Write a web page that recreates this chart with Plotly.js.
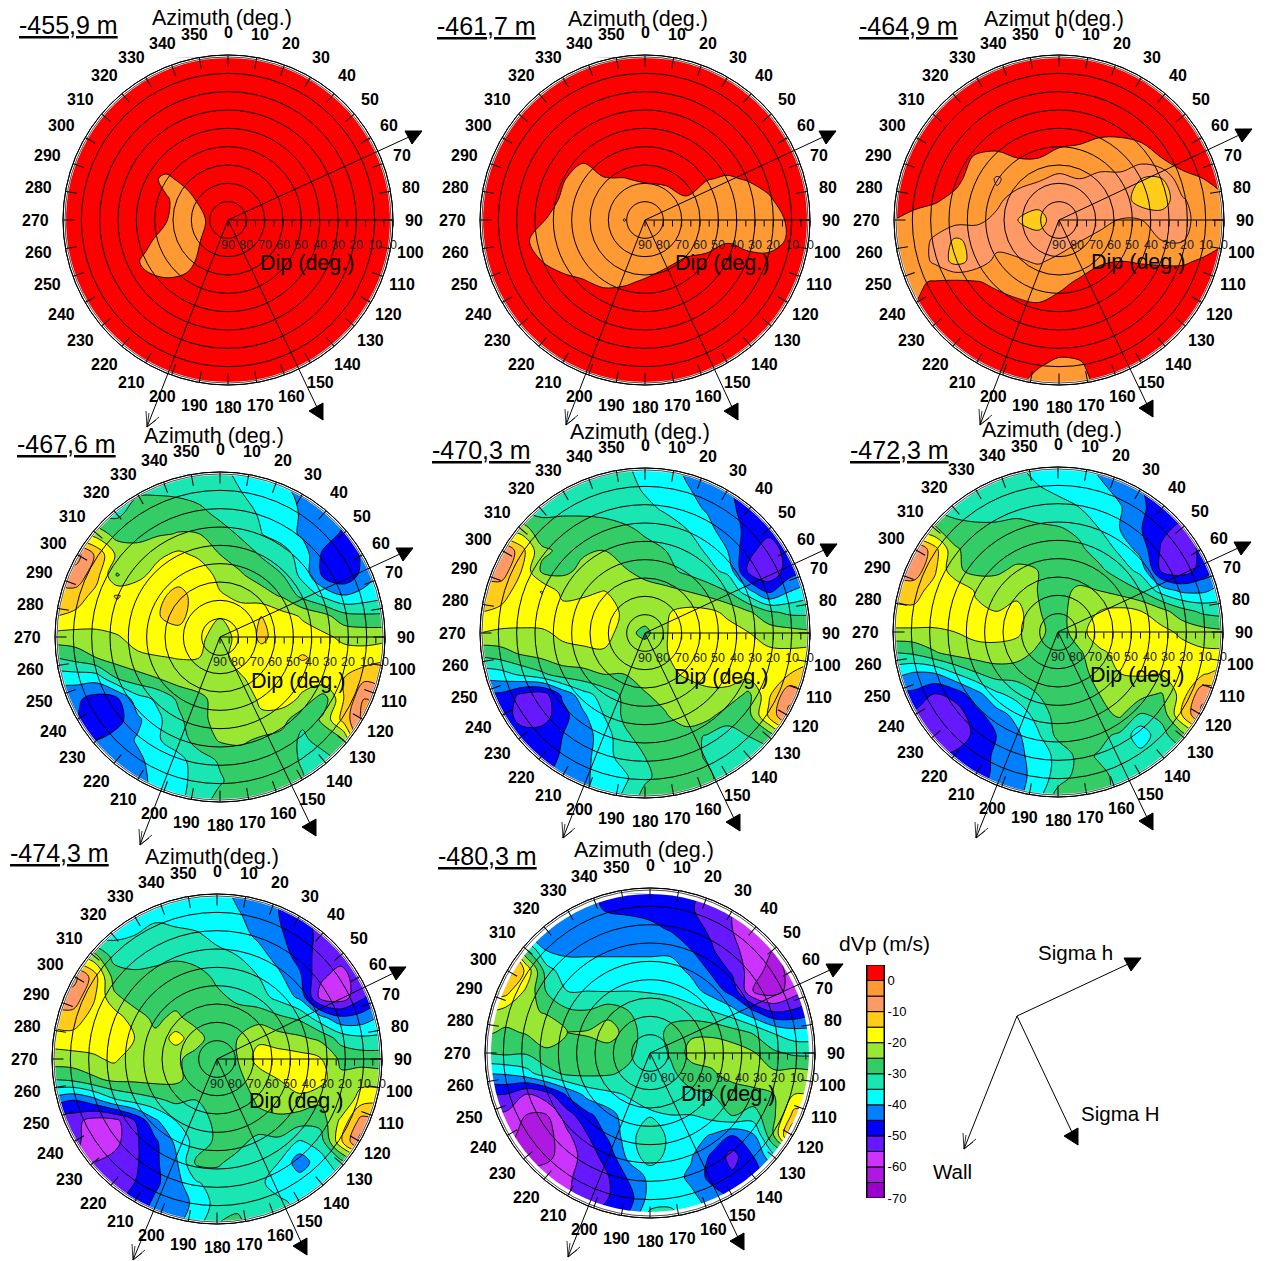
<!DOCTYPE html>
<html><head><meta charset="utf-8">
<script src="https://cdn.plot.ly/plotly-3.0.1.min.js"></script>
<style>html,body{margin:0;padding:0;background:#fff}#chart{width:1274px;height:1261px}</style>
</head><body><div id="chart"></div>
<script>
// ---------- data ----------
const gridX=[-90,-78.75,-67.5,-56.25,-45,-33.75,-22.5,-11.25,0,11.25,22.5,33.75,45,56.25,67.5,78.75,90];
const gridY=[90,78.75,67.5,56.25,45,33.75,22.5,11.25,0,-11.25,-22.5,-33.75,-45,-56.25,-67.5,-78.75,-90];
const azimuthTicks=[0,10,20,30,40,50,60,70,80,90,100,110,120,130,140,150,160,170,180,190,200,210,220,230,240,250,260,270,280,290,300,310,320,330,340,350];
const dipTicks=[90,80,70,60,50,40,30,20,10,0];
const levelTicks=[0,-10,-20,-30,-40,-50,-60,-70];
const levelLabels=['0','-10','-20','-30','-40','-50','-60','-70'];
const bandMid=[-67.5,-62.5,-57.5,-52.5,-47.5,-42.5,-37.5,-32.5,-27.5,-22.5,-17.5,-12.5,-7.5,-2.5,2.5];
const bandColors=['#9900CC','#AD19E0','#CC33FF','#6619FF','#0000FF','#0080FF','#00FFFF','#19E6B3','#33CC66','#99E633','#FFFF00','#FFCC19','#FF9966','#FF9933','#FF0000'];
const depthLabels=['-455,9 m','-461,7 m','-464,9 m','-467,6 m','-470,3 m','-472,3 m','-474,3 m','-480,3 m'];
const azimuthLabels=['Azimuth (deg.)','Azimuth (deg.)','Azimut h(deg.)','Azimuth (deg.)','Azimuth (deg.)','Azimuth (deg.)','Azimuth(deg.)','Azimuth (deg.)'];

const dVp455=[
[2,2,2,2,2,2,2,2,2,2,2,2,2,2,2,2,2],
[2,2,2,2,2,2,2,2,2,2,2,2,2,2,2,2,2],
[2,2,2,2,2,2,2,2,2,2,2,2,2,2,2,2,2],
[2,2,2,2,2,2,2,2,2,2,2,2,2,2,2,2,2],
[2,2,2,2,2,2,2,2,2,2,2,2,2,2,2,2,2],
[2,2,2,2,2,2,2,2,2,2,2,2,2,2,2,2,2],
[2,2,2,2,1,-0.6,1,2,2,2,2,2,2,2,2,2,2],
[2,2,2,2,2,0.2,-1,1.5,2,2,2,2,2,2,2,2,2],
[2,2,2,2,2,0.2,-2,0.2,2,2,2,2,2,2,2,2,2],
[2,2,2,2,1,-2,-2,1,2,2,2,2,2,2,2,2,2],
[2,2,2,2,-0.8,-2,-1,1.5,2,2,2,2,2,2,2,2,2],
[2,2,2,2,1,0.5,0.8,2,2,2,2,2,2,2,2,2,2],
[2,2,2,2,2,2,2,2,2,2,2,2,2,2,2,2,2],
[2,2,2,2,2,2,2,2,2,2,2,2,2,2,2,2,2],
[2,2,2,2,2,2,2,2,2,2,2,2,2,2,2,2,2],
[2,2,2,2,2,2,2,2,2,2,2,2,2,2,2,2,2],
[2,2,2,2,2,2,2,2,2,2,2,2,2,2,2,2,2]];
const dVp461=[
[2,2,2,2,2,2,2,2,2,2,2,2,2,2,2,2,2],
[2,2,2,2,2,2,2,2,2,2,2,2,2,2,2,2,2],
[2,2,2,2,2,2,2,2,2,2,2,2,2,2,2,2,2],
[2,2,2,2,2,2,2,2,2,2,2,2,2,2,2,2,2],
[2,2,2,2,2,2,2,2,2,2,2,2,2,2,2,2,2],
[2,2,2,2,2,0.5,2,2,2,2,2,2,2,2,2,2,2],
[2,2,2,2,0.3,-1.5,-0.2,-0.1,0.5,1,1.5,0.2,-0.4,0.3,1.5,2,2],
[2,2,2,2,-0.5,-2,-2,-2,-2,-2,-0.3,-2,-2,-2,-0.5,2,2],
[2,2,2,0.3,-1.5,-2,-2,-5.2,-2,-2,-2,-2,-2,-2,-2,0.6,2],
[2,2,1,-1.5,-2,-2,-2,-2,-2,-2,-2,-1.5,-0.3,-1.5,-2,0.6,2],
[2,2,2,0,-2,-2,-2,-2,-2,-0.8,0.5,1,2,1.5,1.5,2,2],
[2,2,2,2,1.5,0.3,-0.8,-0.5,0.4,1.5,2,2,2,2,2,2,2],
[2,2,2,2,2,2,2,2,2,2,2,2,2,2,2,2,2],
[2,2,2,2,2,2,2,2,2,2,2,2,2,2,2,2,2],
[2,2,2,2,2,2,2,2,2,2,2,2,2,2,2,2,2],
[2,2,2,2,2,2,2,2,2,2,2,2,2,2,2,2,2],
[2,2,2,2,2,2,2,2,2,2,2,2,2,2,2,2,2]];
const dVp464=[
[2,2,2,2,2,2,2,2,2,2,2,2,2,2,2,2,2],
[2,2,2,2,2,2,2,2,2,2,2,2,2,2,2,2,2],
[2,2,2,2,2,2,2,2,2,2,2,2,2,2,2,2,2],
[2,2,2,2,2,2,2,2,2,2,2,2,2,2,2,2,2],
[2,2,2,2,2,2,2,2,2,1,0,0,1,2,2,2,2],
[2,2,2,1.5,-0.5,-1,0,0,-2,-2,-3,-3,-3,0,1.5,2,2],
[2,2,1.5,1,-2,-5.5,-3,-4.5,-6,-5,-6,-6,-10,-10,-1,0,1.5],
[1.5,1,0.5,-1,-3,-4,-7,-8,-7,-7,-7,-7,-13,-13,-5.5,-2,-0.5],
[0,-1,-2,-3,-4,-6,-10,-12,-7,-7,-7,-4.8,-5,-7,-7,-2,-0.5],
[0,-2,-6,-11,-8,-7,-7,-8,-7,-5.2,-3,-3,-2.5,-5,-5.2,-2,-0.3],
[0.5,-2,-6,-12,-8,-3.5,-4.5,-5.5,-4,-2,-0.5,0,-0.3,-0.5,-0.5,0.5,1],
[1,-0.5,0.3,1,0.3,-1,-2,-2,-1,0.5,2,2,2,2,2,2,2],
[1.5,0,2,2,2,1.5,0.5,0,1,2,2,2,2,2,2,2,2],
[2,2,2,2,2,2,2,2,2,2,2,2,2,2,2,2,2],
[2,2,2,2,2,2,2,2,2,2,2,2,2,2,2,2,2],
[2,2,2,2,2,2,2,0.5,-1,-0.5,2,2,2,2,2,2,2],
[2,2,2,2,2,2,0.5,-2,-3,-1.5,1,2,2,2,2,2,2]];
const dVp467=[
[-31,-31,-31,-31,-31,-31,-31.5,-32,-33,-37,-40,-41,-43,-44,-44,-44,-44],
[-31,-31,-31,-31,-30.5,-30.5,-31,-32,-33,-34.8,-37,-39,-41,-43,-44,-44,-44],
[-31,-31,-31,-31,-28,-27,-27,-28.5,-31.5,-33.5,-35.5,-38,-40.5,-42,-43,-44,-44],
[-20,-20,-22,-27,-26.5,-25.5,-24.8,-25,-27.5,-30.8,-34.9,-37,-41,-42,-46,-43,-43],
[-6,-3,-11,-21,-23,-21,-19,-21,-25,-27,-30.5,-33,-37,-46,-48,-44,-42],
[-8,-7,-13,-25.5,-21.5,-18,-17,-17,-21.5,-24.5,-27,-29.8,-36.5,-46,-49,-43,-38],
[-12,-12,-17,-14.7,-16.5,-16,-13.5,-17,-19.5,-21,-23,-25.5,-31.5,-36,-39.7,-38,-36],
[-15,-16.5,-17.5,-16.5,-16.5,-15.2,-13.5,-18,-19.8,-18,-15,-18,-20.5,-23,-28,-29,-29],
[-22,-22,-21.5,-20.5,-18,-17,-17,-19,-22,-18.5,-14,-17,-18,-19,-21,-21.5,-21.5],
[-30,-28,-25,-22.5,-21,-20.3,-19.8,-20,-21.5,-18,-17,-17,-14.5,-16.5,-18,-18,-16],
[-38,-38,-38,-30,-27,-25,-22.5,-21.5,-20.8,-20.5,-18,-17,-18,-16,-15,-11,-11],
[-44,-44,-47,-46,-37,-34,-29,-26.5,-22.5,-21.5,-19.5,-17.5,-21,-28,-15,-5,-9],
[-45,-45,-48,-47,-41,-36,-31,-26.5,-23,-22,-20.5,-23,-29,-24,-13,-3,-3],
[-45,-45,-45,-42.5,-39.5,-35.5,-32,-28,-24.5,-24,-26,-27,-31,-28,-25,-5,-5],
[-43,-43,-43,-43,-41,-38,-36.8,-32,-29.5,-28,-27.5,-28,-30.5,-32,-29,-25,-25],
[-42,-42,-42,-42,-42,-38,-36.5,-33,-30.5,-28,-28,-28,-29.5,-32,-32,-32,-32],
[-42,-42,-42,-42,-42,-38,-36,-32,-28,-27.5,-27.5,-27.5,-28,-30,-32,-32,-32]];
const dVp470=[
[-31,-31,-31,-31,-31,-31,-32,-34.5,-36,-38,-41,-43,-44,-45,-46,-46,-46],
[-31,-31,-31,-31,-31,-31.5,-32.5,-33.5,-35.5,-37.5,-39.5,-42,-44,-47,-48,-48,-48],
[-31,-31,-31,-31,-31,-31,-31.5,-32.5,-34,-35.5,-38,-40.5,-43.5,-47,-48,-48,-48],
[-22,-22,-22,-28.5,-28,-28,-28,-29,-30.8,-33,-34.8,-38,-43,-46,-48.5,-46,-46],
[-6,-4,-13,-24,-26,-25.5,-25,-27,-28.5,-30,-33,-35.5,-40,-48.5,-52.5,-48,-46],
[-8,-7,-15,-26,-26,-24,-23,-24.5,-26.5,-28.5,-31,-33.5,-36,-51,-54,-47.5,-44],
[-14,-13,-17,-14.8,-21.5,-21,-19.8,-21.5,-23,-23.5,-24.8,-27,-30,-38,-46,-40,-37],
[-15,-16,-17,-17,-18,-17.5,-17,-21,-22,-20.5,-18.5,-18.5,-21,-24,-29,-31,-31],
[-20,-21,-21,-20.8,-19,-17.5,-17,-23,-26.5,-20.5,-16,-17,-18,-19.8,-22,-23,-24],
[-28.5,-27,-24.5,-23,-21.5,-21.5,-21,-21,-21.5,-20.5,-16.5,-17,-17.5,-18,-19,-19,-18],
[-38,-37,-34,-31,-27.5,-26.5,-25,-25,-22.5,-21,-19.5,-18.5,-18.5,-18,-17,-15,-12],
[-46,-46,-51,-53,-44,-37,-33,-29,-25.5,-23,-22,-21,-21,-26.5,-16,-6,-10],
[-47,-47,-52,-52.5,-47,-41,-35,-29,-27.5,-25.5,-21.5,-23,-28,-27,-14,-4,-4],
[-48,-48,-48,-47.5,-45,-42,-38,-31,-28,-28,-28,-30.5,-32,-30,-28,-20,-20],
[-47,-47,-47,-47,-44.5,-42,-37,-33,-30,-28,-28,-30.5,-32,-32,-32,-30,-30],
[-46,-46,-46,-46,-43,-41,-38,-36,-31,-28,-28,-29,-32,-32,-32,-32,-32],
[-46,-46,-46,-45,-43,-41,-38,-34,-28,-28,-28,-29,-32,-32,-32,-32,-32]];
const dVp472=[
[-31,-31,-31,-31,-31,-31,-34.5,-36.5,-37,-38,-41,-42,-44,-46,-47,-47,-47],
[-31,-31,-31,-31,-31,-31,-32,-34.7,-36,-37.5,-39,-41.5,-44.5,-47.5,-48,-48,-48],
[-31,-31,-31,-31,-31,-31,-31.5,-32.5,-33.5,-34.8,-37.5,-39.5,-44,-47.5,-48,-48,-48],
[-24,-24,-24,-29,-29.5,-29.5,-28.5,-29,-29.5,-31,-35,-40,-44.7,-49,-51,-48,-48],
[-6,-4,-13,-24,-28,-28,-27.5,-27.5,-27.5,-29,-32,-36,-42,-50.5,-52.5,-49,-48],
[-8,-7,-14,-24,-26.5,-26,-24,-25,-27,-28,-29,-32.5,-36.5,-51,-53,-48,-43],
[-14,-13,-17,-15,-20.5,-22,-22,-25,-27,-24,-25,-27,-30,-37,-41,-41,-38],
[-16,-16,-17,-16,-19,-20,-18,-24.5,-27.5,-22,-20,-18.5,-19.8,-23,-28,-31,-32],
[-21,-21,-20.8,-20,-18.5,-18,-19,-23,-28,-22,-17,-17,-17.5,-18.5,-21,-23,-24],
[-30,-29,-25.5,-23,-22,-22,-22.5,-26,-28,-26,-21,-18.5,-18,-17.5,-18,-19,-19],
[-38,-40.5,-40,-35,-30.5,-27.5,-28,-28.5,-28,-27,-23,-20,-19.5,-19.5,-18,-16,-13],
[-46,-46,-50,-48,-42,-36,-33,-30,-28,-28,-25,-21.5,-23,-25.5,-18,-6,-9],
[-51,-51,-53,-53,-47,-42,-38.5,-33,-28,-28,-27,-24,-30.5,-29,-15,-4,-4],
[-53,-53,-53,-53,-49,-45,-41,-36,-28.5,-28,-28.5,-31,-38.5,-31.5,-27,-20,-20],
[-50,-50,-50,-49,-48,-44,-42,-37,-34,-28.5,-30.5,-32,-33,-33,-32,-30,-30],
[-48,-48,-48,-48,-47,-44,-42,-38,-33,-28,-29,-31,-32,-32,-32,-32,-32],
[-47,-47,-47,-46,-45,-43,-41,-37,-27,-27.5,-29,-31,-32,-32,-32,-32,-32]];
const dVp474=[
[-37,-37,-37,-37,-37,-37,-37,-37,-38,-41,-43,-45,-49,-52,-52,-52,-52],
[-37,-37,-37,-37,-36.5,-36,-36.5,-37,-38,-39.5,-42,-45,-48,-52,-53,-53,-53],
[-37,-37,-37,-36,-35,-33.5,-34,-34.5,-36,-38,-41,-44,-48,-51,-53,-53,-53],
[-20,-20,-23,-32,-31,-32,-31,-32,-34,-35,-38,-42,-47,-52,-53,-52,-52],
[-5,-3,-12,-27,-29.5,-28,-27,-28,-31,-34,-35,-39,-44,-54,-57,-52,-50],
[-8,-7,-14,-24,-27,-27,-27,-28,-29,-31,-33,-36.5,-41,-56.5,-58,-51,-46],
[-12,-12,-17,-17,-23,-26,-24,-27,-29,-28,-27,-29,-31,-38,-44,-43,-39],
[-18,-17,-17,-17,-20,-24,-18,-23,-28,-25,-21,-23,-24,-26,-32,-34,-34],
[-22,-22,-21,-19,-23,-24,-24,-27,-29,-25,-18,-17,-18,-19.5,-26,-27,-27],
[-30,-29,-26,-24,-24,-23.5,-24,-27,-29,-26,-23,-20,-17,-18,-24,-22,-23],
[-42,-45,-42,-36,-33,-31,-29,-30,-29,-27,-24.5,-22,-21.5,-24,-25,-17,-16],
[-53,-53,-57,-57,-50,-41,-35,-32,-29,-28,-26,-26.5,-28,-28,-19,-8,-10],
[-53,-53,-58,-57,-51,-46,-39,-33,-29,-28,-32,-31,-35.5,-33,-16,-3,-3],
[-55,-55,-55,-53,-51,-46,-41,-29,-29,-32,-33,-35,-43,-37,-32,-25,-25],
[-54,-54,-54,-53,-50,-46,-42,-35.5,-33,-33,-34,-37,-37,-37,-36,-34,-34],
[-50,-50,-50,-50,-48,-44,-42,-39,-33,-31,-33,-34,-36,-36,-36,-36,-36],
[-46,-46,-46,-46,-46,-43,-41,-37,-30,-29,-33,-34,-36,-36,-36,-36,-36]];
const dVp480=[
[-44,-44,-44,-44,-44,-44,-47,-48,-48,-48,-49,-51,-54,-57,-58,-58,-58],
[-44,-44,-44,-44,-44,-44,-45.5,-46,-47,-48,-49.5,-53,-55,-57.5,-58,-58,-58],
[-43,-43,-43,-43,-43,-43,-43,-43,-43.5,-45.5,-48,-51,-55,-58,-58,-58,-58],
[-15,-15,-30,-40.5,-41,-41,-41,-41,-41,-41,-45,-49.5,-54,-57,-60,-58,-58],
[-7,-7,-16,-33,-38,-38,-38,-38,-38,-38,-41,-46,-51,-58,-62,-58,-56],
[-13,-13,-21,-30.5,-35,-35,-35.2,-35,-35.3,-36,-38,-42,-47,-60,-62.5,-57,-53],
[-20,-22,-24,-25.5,-29,-29.5,-27,-30,-32,-32,-33,-34.8,-38,-44,-50,-49,-46],
[-24,-26,-24.5,-22,-25,-24.5,-22,-28,-33,-28.5,-26,-26,-28,-30.5,-35.5,-38,-38],
[-30,-29,-29.5,-26,-27,-27,-28,-29,-33,-29.5,-23,-22,-22,-24.5,-29,-31,-31],
[-40,-39.5,-37,-32,-29,-29,-29.5,-31,-33,-31,-27.5,-26,-22,-21,-24,-23,-24],
[-50,-50,-55,-52,-44,-38,-36,-34.5,-33.5,-32,-31,-30,-29,-27,-25,-20,-21],
[-56,-56,-60,-60,-52,-46,-42,-37,-35.5,-35,-35,-33,-29.5,-32,-26,-13,-13],
[-58,-58,-62,-62,-56,-50,-44,-37,-31,-36.5,-38,-40.5,-45,-41,-25,-4,-4],
[-60,-60,-62,-61,-58,-52,-48,-38,-32,-37,-39.5,-46,-52,-45,-36,-30,-30],
[-58,-58,-58,-58,-56,-52,-50,-44,-38.5,-38,-41,-47,-49,-46,-44,-42,-42],
[-55,-55,-55,-55,-55,-52,-50,-47,-38,-37,-39,-42,-46,-46,-46,-46,-46],
[-52,-52,-52,-52,-52,-50,-48,-44,-33,-33,-37,-40,-44,-44,-44,-44,-44]];
const panelValues=[dVp455,dVp461,dVp464,dVp467,dVp470,dVp472,dVp474,dVp480];

// ---------- layout helpers ----------
const W=1274,H=1261,R=165;
const FONT='"Liberation Sans", Arial, sans-serif';
const px=v=>v/W, py=v=>1-v/H;
const panels=[
 {c:[228,220],m:162,t:[17,25],a:[222,18],d:[307,263],h:[422,131],S:[323,420],w:[147,427]},
 {c:[645,220],m:162,t:[435,26],a:[638,19],d:[722,263],h:[836,131],S:[738,420],w:[566,425]},
 {c:[1059,220],m:162,t:[857,26],a:[1054,19],d:[1138,262],h:[1252,129],S:[1153,417],w:[980,425]},
 {c:[220,637],m:162,t:[15,444],a:[214,436],d:[298,681],h:[413,548],S:[316,836],w:[140,845]},
 {c:[645,633],m:162,t:[430,450],a:[640,432],d:[721,677],h:[837,544],S:[740,831],w:[563,838]},
 {c:[1058,632],m:162,t:[848,450],a:[1052,430],d:[1137,675],h:[1251,542],S:[1153,830],w:[976,838]},
 {c:[217,1059],m:162,t:[8,853],a:[212,857],d:[296,1101],h:[406,967],S:[307,1255],w:[133,1260]},
 {c:[650,1053],m:159,t:[436,856],a:[644,850],d:[728,1094],h:[843,964],S:[744,1250],w:[568,1257]}
];
const n=bandColors.length+1;
const colorscale=[[0,bandColors[0]]];
bandColors.forEach((c,i)=>colorscale.push([(i+1)/n,c]));
colorscale.push([1,bandColors[bandColors.length-1]]);

const traces=[];
const layout={width:W,height:H,margin:{l:0,r:0,t:0,b:0},paper_bgcolor:'#fff',plot_bgcolor:'rgba(0,0,0,0)',showlegend:false,
  font:{family:FONT,color:'#000'},annotations:[],shapes:[]};
const ann=(text,x,y,size,extra)=>layout.annotations.push(Object.assign({text,x:px(x),y:py(y),xref:'paper',yref:'paper',showarrow:false,xanchor:'center',yanchor:'middle',font:{family:FONT,size,color:'#000'}},extra||{}));
const line=(a,b,w)=>layout.shapes.push({type:'line',xref:'paper',yref:'paper',x0:px(a[0]),y0:py(a[1]),x1:px(b[0]),y1:py(b[1]),line:{color:'#000',width:w||1}});
const tri=(tip,pts)=>{const p=pts.map(q=>[tip[0]+q[0],tip[1]+q[1]]);
  layout.shapes.push({type:'path',xref:'paper',yref:'paper',path:'M'+p.map(q=>px(q[0])+','+py(q[1])).join('L')+'Z',fillcolor:'#000',line:{color:'#000',width:1}});};
const arrowSet=(c,h,S,w)=>{
  line(c,h);tri(h,[[-17,0],[0,0],[-10,13]]);
  line(c,S);tri(S,[[0,-17],[0,0],[-14,-9]]);
  line(c,w);[[-1,-16],[12,-10],[2,-14],[9,-7]].forEach(q=>line(w,[w[0]+q[0],w[1]+q[1]],0.8));
};

panels.forEach((p,i)=>{
  const k=i+1, ax=k===1?'':k, pk='polar'+(k===1?'':k);
  const dx=[px(p.c[0]-R),px(p.c[0]+R)], dy=[py(p.c[1]+R),py(p.c[1]-R)];
  layout['xaxis'+ax]={domain:dx,range:[-90,90],visible:false,fixedrange:true,anchor:'y'+ax};
  layout['yaxis'+ax]={domain:dy,range:[-90,90],visible:false,fixedrange:true,anchor:'x'+ax};
  traces.push({type:'contour',x:gridX,y:gridY,z:panelValues[i],xaxis:'x'+ax,yaxis:'y'+ax,
    autocontour:false,contours:{start:-70,end:5,size:5,coloring:'fill',showlines:true},
    line:{color:'#000',width:0.9,smoothing:1},colorscale,zauto:false,zmin:-72.5,zmax:7.5,hoverinfo:'skip',showscale:false});
  // white ring hiding the grid outside the measured area
  const rx=[-90,90,90,-90,-90],ry=[90,90,-90,-90,90],mr=p.m/R*90;
  for(let a=0;a<=360;a+=4){const t=a*Math.PI/180;rx.push(-mr*Math.sin(t));ry.push(mr*Math.cos(t));}
  rx.push(-90);ry.push(90);
  traces.push({type:'scatter',mode:'none',x:rx,y:ry,fill:'toself',fillcolor:'#fff',xaxis:'x'+ax,yaxis:'y'+ax,hoverinfo:'skip'});
  traces.push({type:'scatterpolar',subplot:pk,mode:'markers',r:dipTicks,theta:dipTicks.map(()=>90),marker:{size:1,opacity:0},hoverinfo:'skip'});
  layout[pk]={domain:{x:dx,y:dy},bgcolor:'rgba(0,0,0,0)',
    angularaxis:{rotation:90,direction:'clockwise',tickmode:'array',tickvals:azimuthTicks,showticklabels:false,ticks:'inside',ticklen:11,tickcolor:'#000',tickwidth:1,showgrid:false,showline:true,linecolor:'#000',linewidth:1},
    radialaxis:{range:[90,0],angle:0,tickangle:0,side:'clockwise',tickmode:'linear',tick0:0,dtick:5,showticklabels:false,ticks:'outside',ticklen:6,tickcolor:'#000',
      showgrid:false,showline:true,linecolor:'#000',linewidth:1}};
  // dip rings
  dipTicks.forEach(d=>{if(d===90)return;const r=(90-d)/90*R;
    layout.shapes.push({type:'circle',xref:'paper',yref:'paper',x0:px(p.c[0]-r),x1:px(p.c[0]+r),y0:py(p.c[1]+r),y1:py(p.c[1]-r),line:{color:'#000',width:1}});});
  layout.shapes.push({type:'circle',xref:'paper',yref:'paper',x0:px(p.c[0]-R+2),x1:px(p.c[0]+R-2),y0:py(p.c[1]+R-2),y1:py(p.c[1]-R+2),line:{color:'#000',width:0.7}});
  // azimuth labels around the ring
  azimuthTicks.forEach(a=>{const t=a*Math.PI/180,s=Math.sin(t);
    ann('<b>'+a+'</b>',p.c[0]-3.5*Math.abs(s)+189*s,p.c[1]-188*Math.cos(t),16);});
  ann('<u>'+depthLabels[i]+'</u>',p.t[0],p.t[1],25,{xanchor:'left'});
  ann(azimuthLabels[i],p.a[0],p.a[1],21.5);
  ann('Dip (deg.)',p.d[0],p.d[1],21.5);
  dipTicks.forEach(d=>layout.annotations.push({text:String(d),x:90-d,y:-13.5,xref:'x'+ax,yref:'y'+ax,showarrow:false,font:{family:FONT,size:12.5,color:'#222'}}));
  arrowSet(p.c,p.h,p.S,p.w);
});

// colour key drawn as stacked bands on its own axis
layout.xaxis9={domain:[px(867),px(884)],range:[0,1],visible:false,fixedrange:true,anchor:'y9'};
layout.yaxis9={domain:[py(1198),py(965)],range:[-70,5],side:'right',anchor:'x9',tickmode:'array',tickvals:levelTicks,ticktext:levelLabels,ticks:'',showgrid:false,zeroline:false,showline:true,linecolor:'#000',mirror:true,fixedrange:true,tickfont:{family:FONT,size:13,color:'#000'}};
traces.push({type:'bar',orientation:'v',x:bandMid.map(()=>0.5),y:bandMid.map(()=>5),base:bandMid.map(v=>v-2.5),width:1,xaxis:'x9',yaxis:'y9',marker:{color:bandColors,line:{color:'#000',width:1}},hoverinfo:'skip'});

// legend block
ann('dVp (m/s)',884,943,21);
arrowSet([1017,1016],[1141,958],[1078,1145],[964,1149]);
ann('Sigma h',1075,952,20.5);
ann('Sigma H',1120,1113,20.5);
ann('Wall',952,1171,20.5);

Plotly.newPlot('chart',traces,layout,{staticPlot:true,displayModeBar:false});
</script></body></html>
